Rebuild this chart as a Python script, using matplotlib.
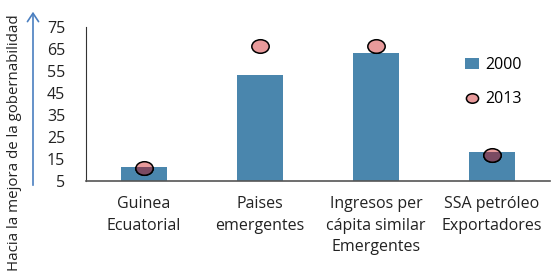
import matplotlib.pyplot as plt
import numpy as np
from matplotlib.path import Path
from matplotlib.patches import FancyArrowPatch

categorias = ['Guinea\nEcuatorial', 'Paises\nemergentes',
              'Ingresos per\ncápita similar\nEmergentes', 'SSA petróleo\nExportadores']
valores_2000 = [11.5, 53, 63, 18]
valores_2013 = [11, 66.5, 66.5, 17]
yticks = [5, 15, 25, 35, 45, 55, 65, 75]

plt.rcParams['font.family'] = ['Open Sans', 'DejaVu Sans']

azul = '#4a86ad'
rosa = '#e89a9b'
oscuro = '#7b4a62'

# marcador eliptico (un poco mas ancho que alto)
circ = Path.unit_circle()
elipse = Path(circ.vertices * np.array([1.0, 0.78]), circ.codes)

fig = plt.figure(figsize=(5.52, 2.79), dpi=100)
ax = fig.add_axes([0.1558, 0.3513, 0.8406, 0.5519])

x = np.arange(len(categorias))
bars = ax.bar(x, valores_2000, width=0.4, color=azul, zorder=2, label='2000')
puntos, = ax.plot(x, valores_2013, linestyle='none', marker=elipse, markersize=12.5,
                  markerfacecolor=rosa, markeredgecolor='black', markeredgewidth=1.1,
                  zorder=3, label='2013')

# parte del punto que queda sobre la barra, mas oscura
for xi, yi, b in zip(x, valores_2013, bars):
    l, = ax.plot([xi], [yi], linestyle='none', marker=elipse, markersize=12.5,
                 markerfacecolor=oscuro, markeredgecolor='black',
                 markeredgewidth=1.1, zorder=4)
    l.set_clip_path(b)

ax.set_xlim(-0.5, 3.5)
ax.set_ylim(5, 75)
ax.set_yticks(yticks)
ax.set_xticks(x)
ax.set_xticklabels(categorias, fontsize=11.5, linespacing=1.45)
ax.tick_params(axis='both', length=0, labelsize=11.5, colors='#222222')
ax.tick_params(axis='x', pad=11)
ax.tick_params(axis='y', pad=15)
for s in ['top', 'right']:
    ax.spines[s].set_visible(False)
ax.spines['left'].set_color('#333333')
ax.spines['bottom'].set_color('#555555')
ax.spines['bottom'].set_linewidth(1.2)

ax.legend([bars, puntos], ['2000', '2013'], loc='upper left',
          bbox_to_anchor=(0.785, 0.9), frameon=False,
          fontsize=11.5, handlelength=0.9, handletextpad=0.4, labelspacing=1.15,
          markerscale=0.7)

# flecha y texto del eje vertical
fig.text(0.027, 0.49, 'Hacia la mejora de la gobernabilidad', rotation=90,
         ha='center', va='center', fontsize=10.8, color='#222222')
fig.patches.append(FancyArrowPatch(
    (33, 279 - 188), (33, 279 - 9), transform=None,
    arrowstyle='->,head_length=6,head_width=4',
    color='#4a7fc0', linewidth=1.2, figure=fig))

fig.savefig('out.png', dpi=100)
